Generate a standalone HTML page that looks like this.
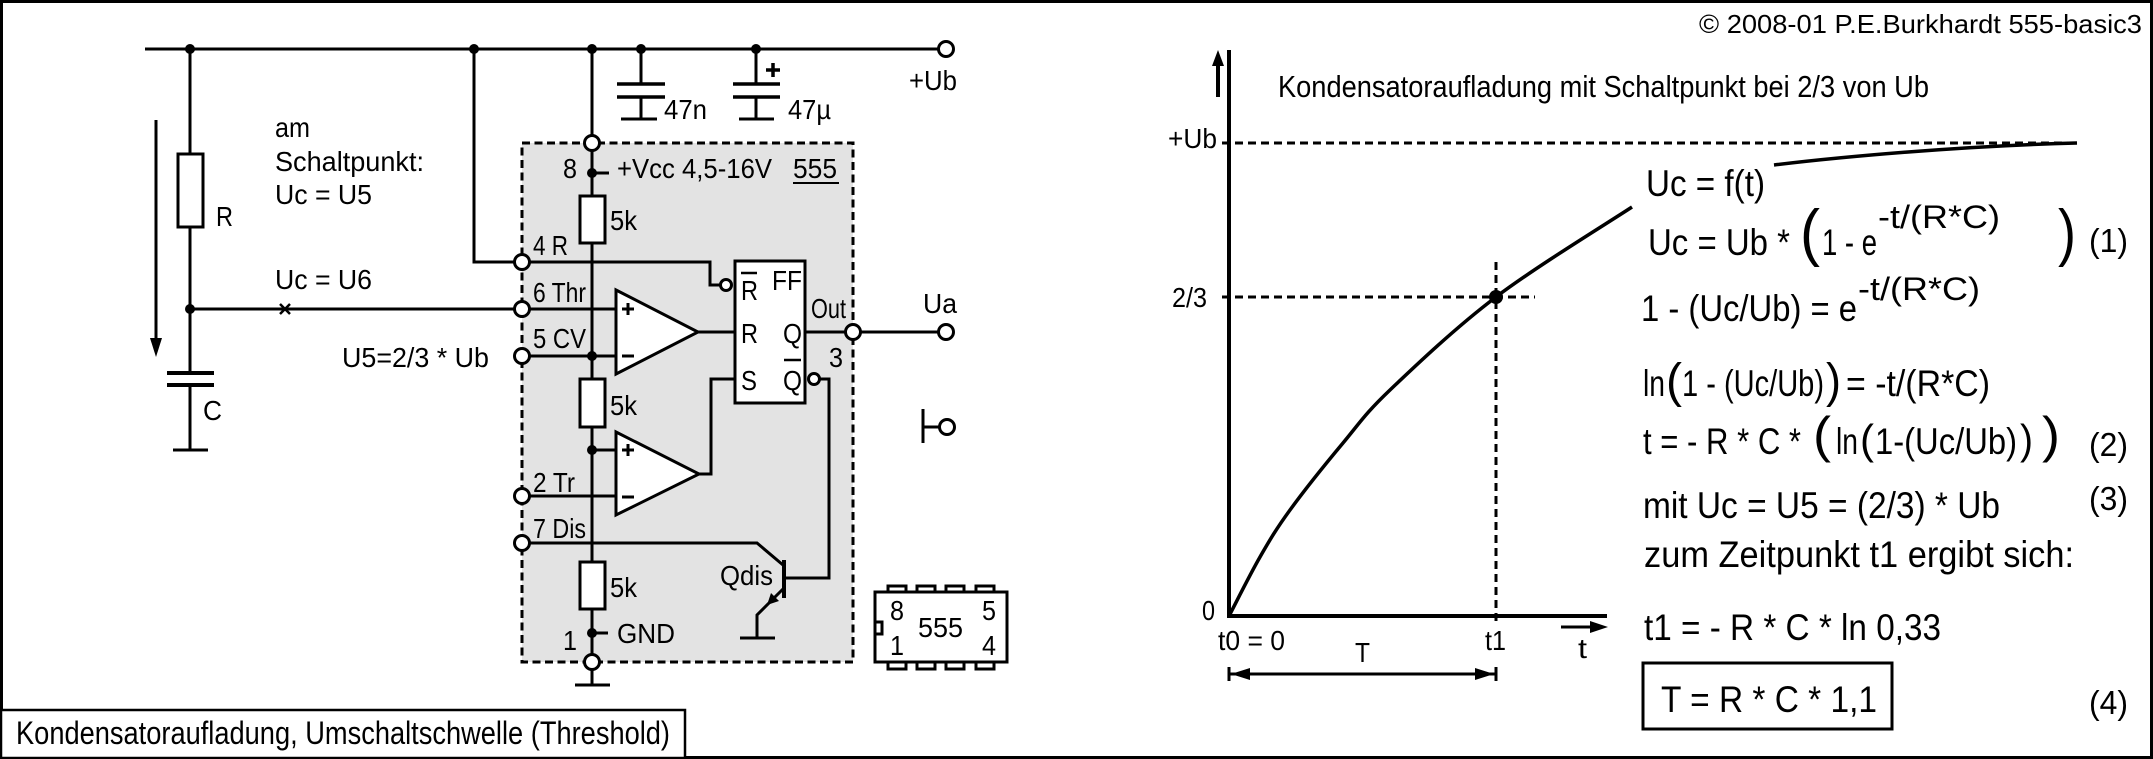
<!DOCTYPE html>
<html>
<head>
<meta charset="utf-8">
<style>
  html,body{margin:0;padding:0;background:#fff;}
  svg{display:block;}
  text{font-family:"Liberation Sans Narrow","Liberation Sans",sans-serif;fill:#000;}
</style>
</head>
<body>
<svg width="2153" height="759" viewBox="0 0 2153 759" xmlns="http://www.w3.org/2000/svg">
  <!-- outer frame -->
  <rect x="1.5" y="1.5" width="2150" height="756" fill="#fff" stroke="#000" stroke-width="3"/>

  <!-- 555 dashed box -->
  <rect x="522" y="143" width="331" height="519" fill="#e3e3e3" stroke="#000" stroke-width="3" stroke-dasharray="8 4.5"/>

  <g stroke="#000" stroke-width="3" fill="none" stroke-linecap="butt">
    <!-- top rail -->
    <path d="M145,49 H938"/>
    <!-- R branch -->
    <path d="M190,49 V154 M190,227 V373"/>
    <!-- C capacitor -->
    <path d="M167,373 H214 M167,385 H214" stroke-width="4"/>
    <path d="M190,385 V450 M173,450 H208" />
    <!-- voltage arrow -->
    <path d="M156,120 V342"/>
    <!-- Thr line -->
    <path d="M190,309 H514 M530,309 H616"/>
    <path d="M280,304 L290,314 M290,304 L280,314" stroke-width="2.5"/>
    <!-- reset line -->
    <path d="M474,49 V262 H514 M530,262 H710 V285 H720"/>
    <!-- divider chain -->
    <path d="M592,49 V135 M592,151 V196 M592,243 V379 M592,427 V562 M592,609 V654 M592,670 V685 M575,685 H610"/>
    <path d="M592,173 H609 M592,633 H608"/>
    <!-- CV, Tr -->
    <path d="M530,356 H616 M592,450 H616 M530,496 H616"/>
    <!-- Dis -->
    <path d="M530,543 H757 L783,565"/>
    <path d="M784,560 V598" stroke-width="4"/>
    <path d="M784,578 H829 V379 H820"/>
    <path d="M784,588 L757,615 V638 M740,638 H775"/>
    <!-- op amp outputs -->
    <path d="M698,332 H735 M699,474 H711 V379 H735"/>
    <!-- output -->
    <path d="M805,332 H845 M861,332 H938"/>
    <!-- switch -->
    <path d="M923,409 V443 M923,427 H939"/>
    <!-- 47n -->
    <path d="M641,49 V84 M641,97 V119 M621,119 H657"/>
    <path d="M617,84 H665 M617,97 H665" stroke-width="3.5"/>
    <!-- 47u -->
    <path d="M756,49 V84 M756,97 V119 M739,119 H774"/>
    <path d="M733,84 H780 M733,97 H780" stroke-width="3.5"/>
    <path d="M766,70 H780 M773,63 V77" stroke-width="3.5"/>
    <!-- 555 underline -->
    <path d="M793,183 H839" stroke-width="2"/>
  </g>

  <!-- resistors -->
  <g fill="#fff" stroke="#000" stroke-width="3">
    <rect x="178" y="154" width="25" height="73"/>
    <rect x="580" y="196" width="25" height="47"/>
    <rect x="580" y="379" width="25" height="48"/>
    <rect x="580" y="562" width="25" height="47"/>
    <!-- op amps -->
    <polygon points="616,290 616,374 698,332"/>
    <polygon points="616,432 616,515 699,474"/>
    <!-- FF -->
    <rect x="735" y="261" width="70" height="142"/>
  </g>
  <!-- overbars (after FF box) -->
  <path d="M741,273 H757 M784,360 H801" stroke="#000" stroke-width="2.5"/>
  <!-- op amp signs -->
  <g stroke="#000" stroke-width="3">
    <path d="M622,309 H634 M628,303 V315 M622,356 H634 M622,450 H634 M628,444 V456 M622,497 H634"/>
  </g>
  <!-- arrow heads -->
  <polygon points="150,338 162,338 156,357" fill="#000"/>
  <polygon points="767,605 779,601 771,593" fill="#000"/>

  <!-- dots -->
  <g fill="#000">
    <circle cx="190" cy="49" r="5"/>
    <circle cx="474" cy="49" r="5"/>
    <circle cx="592" cy="49" r="5"/>
    <circle cx="641" cy="49" r="5"/>
    <circle cx="756" cy="49" r="5"/>
    <circle cx="190" cy="309" r="5"/>
    <circle cx="592" cy="173" r="5"/>
    <circle cx="592" cy="356" r="5"/>
    <circle cx="592" cy="450" r="5"/>
    <circle cx="592" cy="633" r="5"/>
  </g>
  <!-- open pins -->
  <g fill="#fff" stroke="#000" stroke-width="3">
    <circle cx="946" cy="49" r="7.5"/>
    <circle cx="522" cy="262" r="7.5"/>
    <circle cx="522" cy="309" r="7.5"/>
    <circle cx="522" cy="356" r="7.5"/>
    <circle cx="522" cy="496" r="7.5"/>
    <circle cx="522" cy="543" r="7.5"/>
    <circle cx="592" cy="143" r="7.5"/>
    <circle cx="592" cy="662" r="7.5"/>
    <circle cx="853" cy="332" r="7.5"/>
    <circle cx="946" cy="332" r="7.5"/>
    <circle cx="947" cy="427" r="7.5"/>
    <circle cx="726" cy="285" r="5.5"/>
    <circle cx="814" cy="379" r="5.5"/>
  </g>

  <!-- DIP package -->
  <g fill="#fff" stroke="#000" stroke-width="3">
    <rect x="888" y="586" width="18" height="6"/>
    <rect x="917" y="586" width="18" height="6"/>
    <rect x="946" y="586" width="18" height="6"/>
    <rect x="976" y="586" width="18" height="6"/>
    <rect x="888" y="662" width="18" height="7"/>
    <rect x="917" y="662" width="18" height="7"/>
    <rect x="946" y="662" width="18" height="7"/>
    <rect x="976" y="662" width="18" height="7"/>
    <rect x="875" y="592" width="132" height="70"/>
    <rect x="875" y="622" width="7" height="12"/>
  </g>

  <!-- circuit text -->
  <g font-size="28">
    <text x="275" y="137" textLength="35" lengthAdjust="spacingAndGlyphs">am</text>
    <text x="275" y="171" textLength="149" lengthAdjust="spacingAndGlyphs">Schaltpunkt:</text>
    <text x="275" y="204" textLength="97" lengthAdjust="spacingAndGlyphs">Uc = U5</text>
    <text x="216" y="226" textLength="17" lengthAdjust="spacingAndGlyphs">R</text>
    <text x="275" y="289" textLength="97" lengthAdjust="spacingAndGlyphs">Uc = U6</text>
    <text x="342" y="367" textLength="147" lengthAdjust="spacingAndGlyphs">U5=2/3 * Ub</text>
    <text x="203" y="420" textLength="19" lengthAdjust="spacingAndGlyphs">C</text>
    <text x="664" y="119" textLength="43" lengthAdjust="spacingAndGlyphs">47n</text>
    <text x="788" y="119" textLength="43" lengthAdjust="spacingAndGlyphs">47µ</text>
    <text x="909" y="90" textLength="48" lengthAdjust="spacingAndGlyphs">+Ub</text>
    <text x="923" y="313" textLength="34" lengthAdjust="spacingAndGlyphs">Ua</text>
    <text x="563" y="178" textLength="14" lengthAdjust="spacingAndGlyphs">8</text>
    <text x="617" y="178" textLength="155" lengthAdjust="spacingAndGlyphs">+Vcc  4,5-16V</text>
    <text x="793" y="178" textLength="44" lengthAdjust="spacingAndGlyphs">555</text>
    <text x="610" y="230" textLength="27" lengthAdjust="spacingAndGlyphs">5k</text>
    <text x="610" y="415" textLength="27" lengthAdjust="spacingAndGlyphs">5k</text>
    <text x="610" y="597" textLength="27" lengthAdjust="spacingAndGlyphs">5k</text>
    <text x="533" y="255" textLength="35" lengthAdjust="spacingAndGlyphs">4 R</text>
    <text x="533" y="302" textLength="53" lengthAdjust="spacingAndGlyphs">6 Thr</text>
    <text x="533" y="348" textLength="53" lengthAdjust="spacingAndGlyphs">5 CV</text>
    <text x="533" y="492" textLength="42" lengthAdjust="spacingAndGlyphs">2 Tr</text>
    <text x="533" y="538" textLength="53" lengthAdjust="spacingAndGlyphs">7 Dis</text>
    <text x="563" y="650" textLength="14" lengthAdjust="spacingAndGlyphs">1</text>
    <text x="617" y="643" textLength="58" lengthAdjust="spacingAndGlyphs">GND</text>
    <text x="720" y="585" textLength="53" lengthAdjust="spacingAndGlyphs">Qdis</text>
    <text x="741" y="300" textLength="17" lengthAdjust="spacingAndGlyphs">R</text>
    <text x="772" y="290" textLength="30" lengthAdjust="spacingAndGlyphs">FF</text>
    <text x="741" y="343" textLength="17" lengthAdjust="spacingAndGlyphs">R</text>
    <text x="783" y="343" textLength="19" lengthAdjust="spacingAndGlyphs">Q</text>
    <text x="741" y="390" textLength="16" lengthAdjust="spacingAndGlyphs">S</text>
    <text x="783" y="390" textLength="19" lengthAdjust="spacingAndGlyphs">Q</text>
    <text x="811" y="318" textLength="35" lengthAdjust="spacingAndGlyphs">Out</text>
    <text x="829" y="367" textLength="14" lengthAdjust="spacingAndGlyphs">3</text>
    <text x="890" y="620" textLength="14" lengthAdjust="spacingAndGlyphs">8</text>
    <text x="890" y="655" textLength="14" lengthAdjust="spacingAndGlyphs">1</text>
    <text x="918" y="637" textLength="45" lengthAdjust="spacingAndGlyphs">555</text>
    <text x="982" y="620" textLength="14" lengthAdjust="spacingAndGlyphs">5</text>
    <text x="982" y="655" textLength="14" lengthAdjust="spacingAndGlyphs">4</text>
  </g>

  <!-- caption box -->
  <rect x="1" y="710" width="684" height="48" fill="#fff" stroke="#000" stroke-width="2.5"/>
  <text x="16" y="744" font-size="32" textLength="654" lengthAdjust="spacingAndGlyphs">Kondensatoraufladung, Umschaltschwelle (Threshold)</text>

  <!-- copyright -->
  <text x="1699" y="33" font-size="26" textLength="443" lengthAdjust="spacingAndGlyphs">© 2008-01 P.E.Burkhardt 555-basic3</text>

  <!-- ===== graph ===== -->
  <g stroke="#000" fill="none">
    <path d="M1229,50 V618 M1227,616 H1607" stroke-width="4"/>
    <path d="M1218,64 V97" stroke-width="4"/>
    <path d="M1222,143 H2077 M1222,297 H1535" stroke-width="3" stroke-dasharray="8 5"/>
    <path d="M1496,262 V622" stroke-width="3" stroke-dasharray="8 5"/>
    <path d="M1229,616 C1234.2,606.2 1249.8,574.7 1260,557 C1270.2,539.3 1276.2,529 1290,510 C1303.8,491 1326.3,463 1343,443 C1359.7,423 1364.5,414.3 1390,390 C1415.5,365.7 1455.7,327.5 1496,297 C1536.3,266.5 1609.3,222 1632,207" stroke-width="3.5"/>
    <path d="M1774,165 C1840,157 1960,146 2077,143" stroke-width="3.5"/>
    <path d="M1561,627 H1592" stroke-width="3"/>
    <path d="M1229,674 H1496 M1229,667 V681 M1496,667 V681" stroke-width="3"/>
  </g>
  <g fill="#000">
    <polygon points="1212,66 1224,66 1218,50"/>
    <polygon points="1590,621 1608,627 1590,633"/>
    <polygon points="1231,674 1250,668 1250,680"/>
    <polygon points="1494,674 1475,668 1475,680"/>
    <circle cx="1496" cy="297" r="7"/>
  </g>
  <g font-size="28">
    <text x="1168" y="148" textLength="49" lengthAdjust="spacingAndGlyphs">+Ub</text>
    <text x="1172" y="307" textLength="35" lengthAdjust="spacingAndGlyphs">2/3</text>
    <text x="1202" y="620" textLength="13" lengthAdjust="spacingAndGlyphs">0</text>
    <text x="1218" y="650" textLength="67" lengthAdjust="spacingAndGlyphs">t0 = 0</text>
    <text x="1485" y="650" textLength="21" lengthAdjust="spacingAndGlyphs">t1</text>
    <text x="1578" y="658" textLength="9" lengthAdjust="spacingAndGlyphs">t</text>
    <text x="1355" y="662" textLength="15" lengthAdjust="spacingAndGlyphs">T</text>
  </g>
  <text x="1278" y="97" font-size="31" textLength="651" lengthAdjust="spacingAndGlyphs">Kondensatoraufladung mit Schaltpunkt bei 2/3 von Ub</text>

  <!-- ===== formulas ===== -->
  <g font-size="37">
    <text x="1646" y="196" textLength="119" lengthAdjust="spacingAndGlyphs">Uc = f(t)</text>

    <text x="1648" y="255" textLength="142" lengthAdjust="spacingAndGlyphs">Uc = Ub *</text>
    <text x="1800" y="254" font-size="63" textLength="20" lengthAdjust="spacingAndGlyphs">(</text>
    <text x="1822" y="255" textLength="55" lengthAdjust="spacingAndGlyphs">1 - e</text>
    <text x="1878" y="228" font-size="32" textLength="122" lengthAdjust="spacingAndGlyphs">-t/(R*C)</text>
    <text x="2058" y="254" font-size="63" textLength="18" lengthAdjust="spacingAndGlyphs">)</text>

    <text x="1641" y="321" textLength="216" lengthAdjust="spacingAndGlyphs">1 - (Uc/Ub) = e</text>
    <text x="1858" y="300" font-size="32" textLength="122" lengthAdjust="spacingAndGlyphs">-t/(R*C)</text>

    <text x="1643" y="396" textLength="22" lengthAdjust="spacingAndGlyphs">ln</text>
    <text x="1666" y="397" font-size="48" textLength="16" lengthAdjust="spacingAndGlyphs">(</text>
    <text x="1682" y="396" textLength="142" lengthAdjust="spacingAndGlyphs">1 - (Uc/Ub)</text>
    <text x="1826" y="397" font-size="48" textLength="15" lengthAdjust="spacingAndGlyphs">)</text>
    <text x="1846" y="396" textLength="144" lengthAdjust="spacingAndGlyphs">= -t/(R*C)</text>

    <text x="1643" y="454" textLength="158" lengthAdjust="spacingAndGlyphs">t = - R * C *</text>
    <text x="1813" y="452" font-size="50" textLength="18" lengthAdjust="spacingAndGlyphs">(</text>
    <text x="1836" y="454" textLength="22" lengthAdjust="spacingAndGlyphs">ln</text>
    <text x="1860" y="454" font-size="42" textLength="14" lengthAdjust="spacingAndGlyphs">(</text>
    <text x="1875" y="454" textLength="142" lengthAdjust="spacingAndGlyphs">1-(Uc/Ub)</text>
    <text x="2020" y="454" font-size="42" textLength="13" lengthAdjust="spacingAndGlyphs">)</text>
    <text x="2042" y="452" font-size="50" textLength="18" lengthAdjust="spacingAndGlyphs">)</text>

    <text x="1643" y="518" textLength="357" lengthAdjust="spacingAndGlyphs">mit Uc = U5 = (2/3) * Ub</text>
    <text x="1644" y="567" textLength="430" lengthAdjust="spacingAndGlyphs">zum Zeitpunkt t1 ergibt sich:</text>
    <text x="1644" y="640" textLength="297" lengthAdjust="spacingAndGlyphs">t1 = - R * C * ln 0,33</text>
    <text x="1661" y="712" textLength="216" lengthAdjust="spacingAndGlyphs">T = R * C * 1,1</text>
  </g>
  <g font-size="33">
    <text x="2089" y="252" textLength="39" lengthAdjust="spacingAndGlyphs">(1)</text>
    <text x="2089" y="456" textLength="39" lengthAdjust="spacingAndGlyphs">(2)</text>
    <text x="2089" y="510" textLength="39" lengthAdjust="spacingAndGlyphs">(3)</text>
    <text x="2089" y="714" textLength="39" lengthAdjust="spacingAndGlyphs">(4)</text>
  </g>
  <rect x="1643" y="663" width="249" height="66" fill="none" stroke="#000" stroke-width="3"/>
</svg>
</body>
</html>
